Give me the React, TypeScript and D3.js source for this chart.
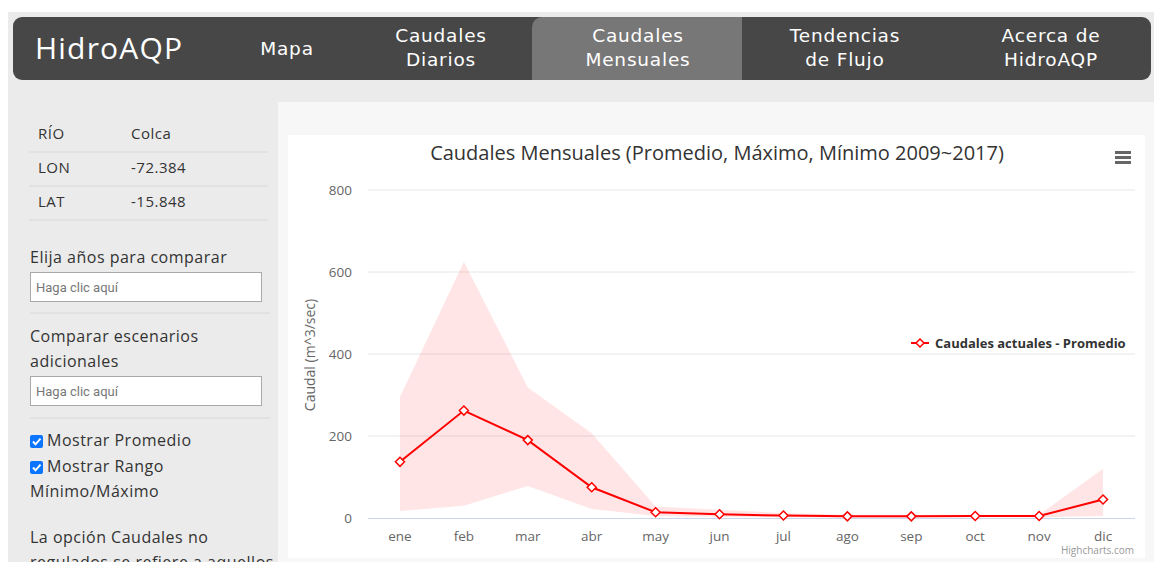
import React from 'react';
import * as d3 from 'd3';

// monthly flow data (m^3/sec)
const months = ['ene', 'feb', 'mar', 'abr', 'may', 'jun', 'jul', 'ago', 'sep', 'oct', 'nov', 'dic'];
const meanFlow = [137, 262, 190, 75, 14, 9, 6, 4, 4, 5, 5, 45];
const maxFlow = [295, 625, 318, 207, 28, 20, 12, 8, 8, 8, 8, 120];
const minFlow = [17, 30, 78, 22, 5, 3, 2, 1, 1, 2, 2, 5];
const yTicks = [0, 200, 400, 600, 800];

const navItems = [
	{ lines: ['Mapa'], cx: 287 },
	{ lines: ['Caudales', 'Diarios'], cx: 441 },
	{ lines: ['Caudales', 'Mensuales'], cx: 638, active: true },
	{ lines: ['Tendencias', 'de Flujo'], cx: 845 },
	{ lines: ['Acerca de', 'HidroAQP'], cx: 1051 },
];
const infoRows = [
	['RÍO', 'Colca'],
	['LON', '-72.384'],
	['LAT', '-15.848'],
];

const W = 1154;
const H = 562;
const uiFont = '"Open Sans", "Noto Sans", sans-serif';
const navFont = '"DejaVu Sans", sans-serif';
const chartFont = '"Open Sans", "Noto Sans", sans-serif';

const App = () => {
	const x = d3.scaleBand<string>().domain(months).range([368, 1135]);
	const y = d3.scaleLinear().domain([0, 800]).range([518, 190]);
	const cx = (i: number) => (x(months[i]) as number) + x.bandwidth() / 2;

	const area = d3
		.area<number>()
		.x((d, i) => cx(i))
		.y0((d, i) => y(minFlow[i]))
		.y1((d, i) => y(maxFlow[i]));
	const line = d3
		.line<number>()
		.x((d, i) => cx(i))
		.y(d => y(d));

	const diamond = (px: number, py: number, r: number) =>
		`M${px},${py - r}L${px + r},${py}L${px},${py + r}L${px - r},${py}Z`;

	return (
		<svg width={W} height={H} style={{ position: 'absolute', left: 0, top: 0, background: '#fff' }}>
			{/* page background */}
			<rect x={8} y={12} width={W - 8} height={H - 12} fill="#ebebeb" />
			<rect x={278} y={102} width={W - 278} height={H - 102} fill="#f7f7f7" />

			{/* nav bar */}
			<rect x={13} y={17} width={1138} height={63} rx={9} fill="#474747" />
			<path d="M532,80V27a10,10 0 0 1 10,-10H742V80Z" fill="#777777" />
			<text x={35} y={59} fill="#fff" fontFamily={uiFont} fontSize={30} letterSpacing={1.2}>
				HidroAQP
			</text>
			{navItems.map(item =>
				item.lines.map((t, j) => (
					<text
						key={item.cx + t}
						x={item.cx}
						y={item.lines.length === 1 ? 55 : 42 + j * 24}
						textAnchor="middle"
						fill="#fff"
						fontFamily={navFont}
						fontSize={18.5}
						letterSpacing={0.8}
					>
						{t}
					</text>
				))
			)}

			{/* sidebar */}
			{infoRows.map((r, i) => (
				<g key={r[0]} fontFamily={uiFont} fontSize={15} letterSpacing={0.5} fill="#333">
					<text x={38} y={139 + i * 34}>
						{r[0]}
					</text>
					<text x={131} y={139 + i * 34}>
						{r[1]}
					</text>
					<line x1={29} x2={268} y1={152 + i * 34} y2={152 + i * 34} stroke="#d8d8d8" />
				</g>
			))}
			<g fontFamily={uiFont} fontSize={16} letterSpacing={0.5} fill="#333">
				<text x={30} y={263}>Elija años para comparar</text>
				<text x={30} y={342}>Comparar escenarios</text>
				<text x={30} y={367}>adicionales</text>
				<text x={47} y={446}>Mostrar Promedio</text>
				<text x={47} y={472}>Mostrar Rango</text>
				<text x={30} y={497}>Mínimo/Máximo</text>
				<text x={30} y={543}>La opción Caudales no</text>
				<text x={30} y={568}>regulados se refiere a aquellos</text>
			</g>
			{[272, 376].map(top => (
				<g key={top}>
					<rect x={30.5} y={top + 0.5} width={231} height={29} fill="#fff" stroke="#aaa" />
					<text x={36} y={top + 20} fontFamily="Roboto, sans-serif" fontSize={13} fill="#777">
						Haga clic aquí
					</text>
				</g>
			))}
			{[313, 418].map(ly => (
				<line key={ly} x1={30} x2={270} y1={ly} y2={ly} stroke="#d8d8d8" />
			))}
			{[435, 461].map(top => (
				<g key={top}>
					<rect x={30} y={top} width={13} height={13} rx={2} fill="#0b75ff" />
					<path
						d={`M33,${top + 6.5}l2.5,2.8l5,-5.6`}
						fill="none"
						stroke="#fff"
						strokeWidth={2}
					/>
				</g>
			))}

			{/* chart container */}
			<rect x={288} y={135} width={857} height={423} fill="#fff" />
			<text
				x={717}
				y={160}
				textAnchor="middle"
				fontFamily={chartFont}
				fontSize={20}
				fill="#333333"
			>
				Caudales Mensuales (Promedio, Máximo, Mínimo 2009~2017)
			</text>
			{[0, 1, 2].map(k => (
				<rect key={k} x={1115} y={151 + k * 5} width={16} height={3} fill="#666" />
			))}

			{/* grid + y axis */}
			{yTicks.map(t => (
				<g key={t}>
					{t > 0 && (
						<line x1={368} x2={1135} y1={y(t)} y2={y(t)} stroke="#e6e6e6" strokeWidth={1} />
					)}
					<text
						x={352}
						y={y(t) + 5}
						textAnchor="end"
						fontFamily={chartFont}
						fontSize={13.5}
						fill="#666666"
					>
						{t}
					</text>
				</g>
			))}
			<line x1={368} x2={1135} y1={y(0) + 0.5} y2={y(0) + 0.5} stroke="#ccd6eb" />
			<text
				transform="translate(315,355) rotate(-90)"
				textAnchor="middle"
				fontFamily={chartFont}
				fontSize={14}
				fill="#666666"
			>
				Caudal (m^3/sec)
			</text>

			{/* x labels */}
			{months.map((m, i) => (
				<text
					key={m}
					x={cx(i)}
					y={541}
					textAnchor="middle"
					fontFamily={chartFont}
					fontSize={13.5}
					fill="#666666"
				>
					{m}
				</text>
			))}

			{/* range + mean */}
			<path d={area(meanFlow) as string} fill="rgba(255,0,0,0.1)" />
			<path d={line(meanFlow) as string} fill="none" stroke="#ff0000" strokeWidth={2} />
			{meanFlow.map((d, i) => (
				<path key={i} d={diamond(cx(i), y(d), 4.5)} fill="#fff" stroke="#ff0000" strokeWidth={1.5} />
			))}

			{/* legend */}
			<line x1={911} x2={929} y1={343} y2={343} stroke="#ff0000" strokeWidth={2} />
			<path d={diamond(920, 343, 4)} fill="#fff" stroke="#ff0000" strokeWidth={1.5} />
			<text x={935} y={347.5} fontFamily={chartFont} fontSize={13} fontWeight="bold" fill="#333333">
				Caudales actuales - Promedio
			</text>

			<text x={1134} y={554} textAnchor="end" fontFamily={chartFont} fontSize={10} fill="#999999">
				Highcharts.com
			</text>
		</svg>
	);
};

export default App;
